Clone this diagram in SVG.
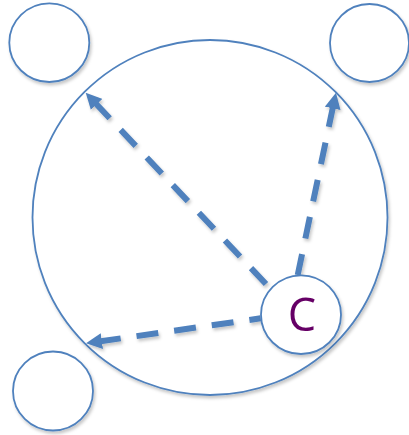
<svg xmlns="http://www.w3.org/2000/svg" width="409" height="435" viewBox="0 0 409 435">
  <style>
    .node { fill: #ffffff; stroke: #4F81BD; stroke-width: 1.8; }
    .conn { fill: none; stroke: #4F81BD; stroke-width: 6; stroke-dasharray: 22 16; }
    .label { font-family: "Open Sans", "Noto Sans", sans-serif; font-size: 45px; fill: #660066; }
  </style>
  <defs>
    <filter id="sh" x="-20%" y="-20%" width="140%" height="140%">
      <feDropShadow dx="1.5" dy="2.5" stdDeviation="1.8" flood-color="#000" flood-opacity="0.22"/>
    </filter>
    <marker id="ah" markerUnits="userSpaceOnUse" viewBox="0 0 16 16" markerWidth="16" markerHeight="16" refX="3" refY="8" orient="auto-start-reverse">
      <path d="M0,0 L16,8 L0,16 z" fill="#4F81BD"/>
    </marker>
  </defs>
  <g id="big" filter="url(#sh)">
    <circle class="node" cx="210" cy="217.5" r="177.5"/>
  </g>
  <g id="tl" filter="url(#sh)">
    <ellipse class="node" cx="49.3" cy="42.7" rx="40" ry="39.3"/>
  </g>
  <g id="tr" filter="url(#sh)">
    <ellipse class="node" cx="369.5" cy="43" rx="39.5" ry="39"/>
  </g>
  <g id="bl" filter="url(#sh)">
    <ellipse class="node" cx="53" cy="391" rx="40" ry="39.5"/>
  </g>
  <g id="connectors" filter="url(#sh)">
    <path class="conn" d="M94.6,102.2 L266,284" marker-start="url(#ah)"/>
    <path class="conn" d="M333.3,105.4 L297.7,275" marker-start="url(#ah)"/>
    <path class="conn" d="M98.9,341.5 L260.7,318.3" marker-start="url(#ah)"/>
  </g>
  <g id="c" filter="url(#sh)">
    <ellipse class="node" cx="301" cy="314.7" rx="40" ry="39.3"/>
    <text class="label" x="302" y="331" text-anchor="middle">C</text>
  </g>
</svg>
